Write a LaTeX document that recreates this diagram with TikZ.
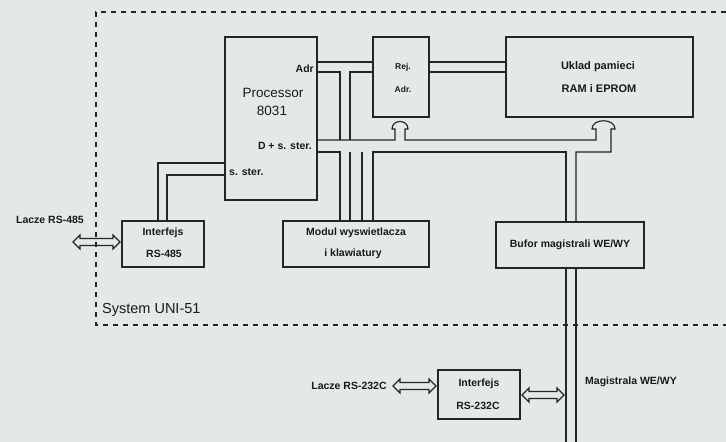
\documentclass[tikz,border=0pt]{standalone}
\usepackage{fontspec}
\setmainfont{Liberation Sans}
\definecolor{ink}{RGB}{30,40,37}
\definecolor{txt}{RGB}{22,28,26}
\definecolor{bg}{RGB}{228,233,230}
\tikzset{
  box/.style={draw=ink, line width=1.2pt, inner sep=0pt, outer sep=0pt, anchor=north west},
  lab/.style={font=\fontsize{10.5}{12}\selectfont\bfseries, text=txt, inner sep=0pt},
  big/.style={font=\fontsize{13.5}{15}\selectfont, text=txt, inner sep=0pt},
  bus/.style={draw=ink, line width=1.15pt},
  frame/.style={draw=ink, line width=1.1pt, dash pattern=on 5pt off 5pt},
  pics/dblarrow/.style={code={
    \draw[bus] (0,0) -- (7,-7) -- (7,-3.5) -- (#1-7,-3.5) -- (#1-7,-7) -- (#1,0)
      -- (#1-7,7) -- (#1-7,3.5) -- (7,3.5) -- (7,7) -- cycle;}}
}
\begin{document}
\begin{tikzpicture}[x=1pt,y=-1pt]
\fill[bg] (0,0) rectangle (726,442);
\useasboundingbox (0,0) rectangle (726,442);

% system frame
\draw[frame] (726,12) -- (96,12) -- (96,325) -- (726,325);

% boxes
\node[box, minimum width=92pt, minimum height=163pt] (proc) at (225,37) {};
\node[box, minimum width=56pt, minimum height=80pt] (rej) at (373,37) {};
\node[box, minimum width=187pt, minimum height=80pt] (mem) at (506,37) {};
\node[box, minimum width=146pt, minimum height=46pt] (modul) at (283,221) {};
\node[box, minimum width=82pt, minimum height=46pt] (rs485) at (122,221) {};
\node[box, minimum width=148pt, minimum height=46pt] (bufor) at (496,222) {};
\node[box, minimum width=82pt, minimum height=49pt] (rs232) at (438,370) {};

% texts
\node[big] (t1) at (273,93) {Processor};
\node[big] (t2) at (272,111) {8031};
\node[lab, anchor=east] (t3) at (314,69) {Adr};
\node[lab, anchor=east] (t4) at (312,146) {D + s. ster.};
\node[lab, anchor=west] (t5) at (229,172) {s. ster.};
\node[lab, font=\fontsize{8.5}{10}\selectfont\bfseries] (t6) at (403,67) {Rej.};
\node[lab, font=\fontsize{8.5}{10}\selectfont\bfseries] (t7) at (403,89) {Adr.};
\node[lab, font=\fontsize{11}{13}\selectfont\bfseries] (t8) at (598,67) {Uklad pamieci};
\node[lab, font=\fontsize{11}{13}\selectfont\bfseries] (t9) at (599,89) {RAM i EPROM};
\node[lab] (t10) at (356,233) {Modul wyswietlacza};
\node[lab] (t11) at (353,254) {i klawiatury};
\node[lab] (t12) at (163,233) {Interfejs};
\node[lab] (t13) at (164,254) {RS-485};
\node[lab] (t14) at (570,245) {Bufor magistrali WE/WY};
\node[lab] (t15) at (479,384) {Interfejs};
\node[lab] (t16) at (478,406) {RS-232C};
\node[lab] (t17) at (50,220) {Lacze RS-485};
\node[lab] (t18) at (349,386) {Lacze RS-232C};
\node[lab, anchor=west] (t19) at (585,382) {Magistrala WE/WY};
\node[text=txt, inner sep=0pt, anchor=west, font=\fontsize{14.5}{17}\selectfont] (t20) at (102,310) {System UNI-51};

% helper levels
\coordinate (yA1) at (0,62);
\coordinate (yA2) at (0,72);
\coordinate (yD1) at (0,140);
\coordinate (yD2) at (0,152);
\coordinate (yH) at (0,129);
\coordinate (yS1) at (0,163);
\coordinate (yS2) at (0,175);
\coordinate (ybot) at (0,442);
\coordinate (xa) at (340,0);
\coordinate (xb) at (350,0);
\coordinate (xc) at (362,0);
\coordinate (xd) at (373,0);
\coordinate (xr1) at (395,0);
\coordinate (xr2) at (405,0);
\coordinate (xm1) at (596,0);
\coordinate (xm2) at (611,0);
\coordinate (xu1) at (566,0);
\coordinate (xu2) at (576,0);
\coordinate (xs1) at (158,0);
\coordinate (xs2) at (167,0);

% address bus
\draw[bus] (proc.east |- yA1) -- (rej.west |- yA1);
\draw[bus] (proc.east |- yA2) -- (xa |- yA2) -- (xa |- yD1);
\draw[bus] (rej.west |- yA2) -- (xb |- yA2) -- (xb |- yD1);
\draw[bus] (rej.east |- yA1) -- (mem.west |- yA1);
\draw[bus] (rej.east |- yA2) -- (mem.west |- yA2);

% data bus, top line with arrows into Rej. Adr. and memory
\draw[bus] (proc.east |- yD1) -- (xr1 |- yD1) -- (xr1 |- yH) -- ++(-3,0)
  .. controls ++(0,-10) and ++(0,-10) .. ([xshift=3pt]xr2 |- yH)
  -- (xr2 |- yH) -- (xr2 |- yD1) -- (xm1 |- yD1) -- (xm1 |- yH) -- ++(-4,0)
  .. controls ++(0,-11) and ++(0,-11) .. ([xshift=4pt]xm2 |- yH) -- (xm2 |- yH)
  -- (xm2 |- yD2) -- (xu2 |- yD2) -- (xu2 |- bufor.north);

% data bus, bottom line and branches
\draw[bus] (proc.east |- yD2) -- (xa |- yD2) -- (xa |- modul.north);
\draw[bus] (xb |- yD2) -- (xb |- modul.north);
\draw[bus] (xc |- yD2) -- (xc |- modul.north);
\draw[bus] (xd |- modul.north) -- (xd |- yD2) -- (xu1 |- yD2) -- (xu1 |- bufor.north);

% I/O bus
\draw[bus] (xu1 |- bufor.south) -- (xu1 |- ybot);
\draw[bus] (xu2 |- bufor.south) -- (xu2 |- ybot);

% control lines to RS-485
\draw[bus] (proc.west |- yS1) -- (xs1 |- yS1) -- (xs1 |- rs485.north);
\draw[bus] (proc.west |- yS2) -- (xs2 |- yS2) -- (xs2 |- rs485.north);

% hollow double arrows
\coordinate (a485) at (73,242);
\coordinate (a232l) at (393,386);
\coordinate (a232r) at (522,395);
\pic at (a485) {dblarrow=47};
\pic at (a232l) {dblarrow=43};
\pic at (a232r) {dblarrow=42};
\end{tikzpicture}
\end{document}
